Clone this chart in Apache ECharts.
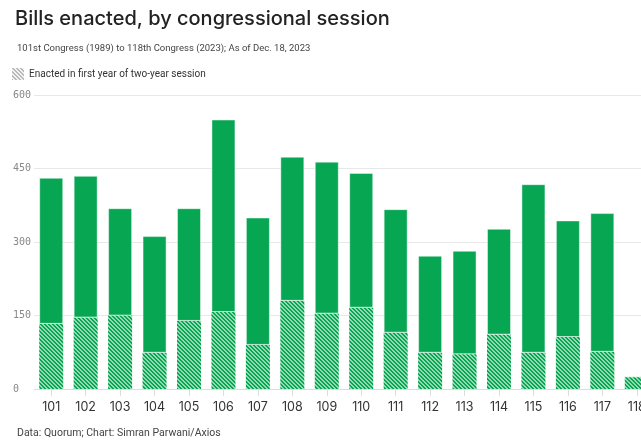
<!DOCTYPE html>
<html>
<head>
<meta charset="utf-8">
<script src="https://cdn.jsdelivr.net/npm/echarts@6/dist/echarts.min.js"></script>
<style>
  html, body { margin: 0; padding: 0; background: #fff; }
  #chart { width: 641px; height: 441px; }
</style>
</head>
<body>
<div id="chart"></div>
<script>
// Congress numbers (101st = 1989 ... 118th = 2023)
const congresses = ['101', '102', '103', '104', '105', '106', '107', '108', '109',
                    '110', '111', '112', '113', '114', '115', '116', '117', '118'];
// Total bills enacted per two-year session
const totalBills = [431, 435, 369, 312, 369, 550, 350, 474, 464,
                    441, 367, 272, 282, 327, 418, 344, 359, 25];
// Bills enacted in the first year of the session
const firstYearBills = [133, 146, 150, 74, 139, 157, 90, 180, 154,
                        166, 115, 74, 71, 111, 74, 106, 76, 25];
// Bills enacted in the second year
const secondYearBills = totalBills.map((t, i) => t - firstYearBills[i]);

const yTicks = [0, 150, 300, 450, 600];

const GREEN = '#07a653';

// Diagonal hatch tile, stripes running top-left to bottom-right
function hatch(dark, light, size) {
  const c = document.createElement('canvas');
  c.width = size; c.height = size;
  const ctx = c.getContext('2d');
  ctx.fillStyle = light;
  ctx.fillRect(0, 0, size, size);
  ctx.fillStyle = dark;
  for (let y = 0; y < size; y++) {
    for (let k = 0; k < size / 2; k++) {
      ctx.fillRect((y + k) % size, y, 1, 1);
    }
  }
  return c;
}

const greenHatch = { image: hatch(GREEN, '#94d9b1', 4), repeat: 'repeat' };
const grayHatch = { image: hatch('#b9b9b9', '#f2f2f2', 4), repeat: 'repeat' };

const chart = echarts.init(document.getElementById('chart'), null, { renderer: 'canvas' });

chart.setOption({
  animation: false,
  backgroundColor: '#fff',
  title: [
    {
      text: 'Bills enacted, by congressional session',
      left: 10, top: 4,
      textStyle: { fontFamily: 'Inter', fontWeight: 500, fontSize: 20, color: '#222' }
    },
    {
      text: '101st Congress (1989) to 118th Congress (2023); As of Dec. 18, 2023',
      left: 12, top: 39,
      textStyle: { fontFamily: 'Roboto', fontWeight: 400, fontSize: 9.5, color: '#444' }
    },
    {
      text: 'Data: Quorum; Chart: Simran Parwani/Axios',
      left: 12, top: 423,
      textStyle: { fontFamily: 'Roboto', fontWeight: 400, fontSize: 10.5, color: '#444' }
    }
  ],
  legend: {
    left: 12, top: 68,
    padding: 0,
    itemWidth: 12, itemHeight: 12,
    icon: 'rect',
    textStyle: { fontFamily: 'Roboto', fontSize: 10, color: '#333' },
    data: [{ name: 'Enacted in first year of two-year session', itemStyle: { color: grayHatch } }]
  },
  // the last session runs past the right edge of the canvas
  grid: { left: 34, top: 95, width: 620, height: 294, containLabel: false, outerBoundsMode: 'none' },
  xAxis: {
    type: 'category',
    data: congresses,
    axisLine: { lineStyle: { color: '#dddddd' } },
    axisTick: { show: true, alignWithLabel: true, length: 7, lineStyle: { color: '#dddddd' } },
    axisLabel: { fontFamily: 'Inter', fontSize: 12.5, color: '#333', margin: 12 }
  },
  yAxis: {
    type: 'value',
    min: yTicks[0], max: yTicks[yTicks.length - 1], interval: 150,
    axisLine: { show: false },
    axisTick: { show: false },
    splitLine: { lineStyle: { color: '#e8e8e8' } },
    axisLabel: { fontFamily: 'DejaVu Sans Mono', fontSize: 10, color: '#888', align: 'left', margin: 21 }
  },
  series: [
    {
      name: 'Enacted in first year of two-year session',
      type: 'bar',
      stack: 'bills',
      barWidth: 24,
      data: firstYearBills,
      itemStyle: { color: greenHatch },
      emphasis: { disabled: true }
    },
    {
      name: 'Enacted in second year',
      type: 'bar',
      stack: 'bills',
      barWidth: 24,
      data: secondYearBills,
      itemStyle: { color: GREEN, borderColor: 'rgba(255,255,255,0.45)', borderWidth: 1 },
      emphasis: { disabled: true }
    }
  ]
});
</script>
</body>
</html>
